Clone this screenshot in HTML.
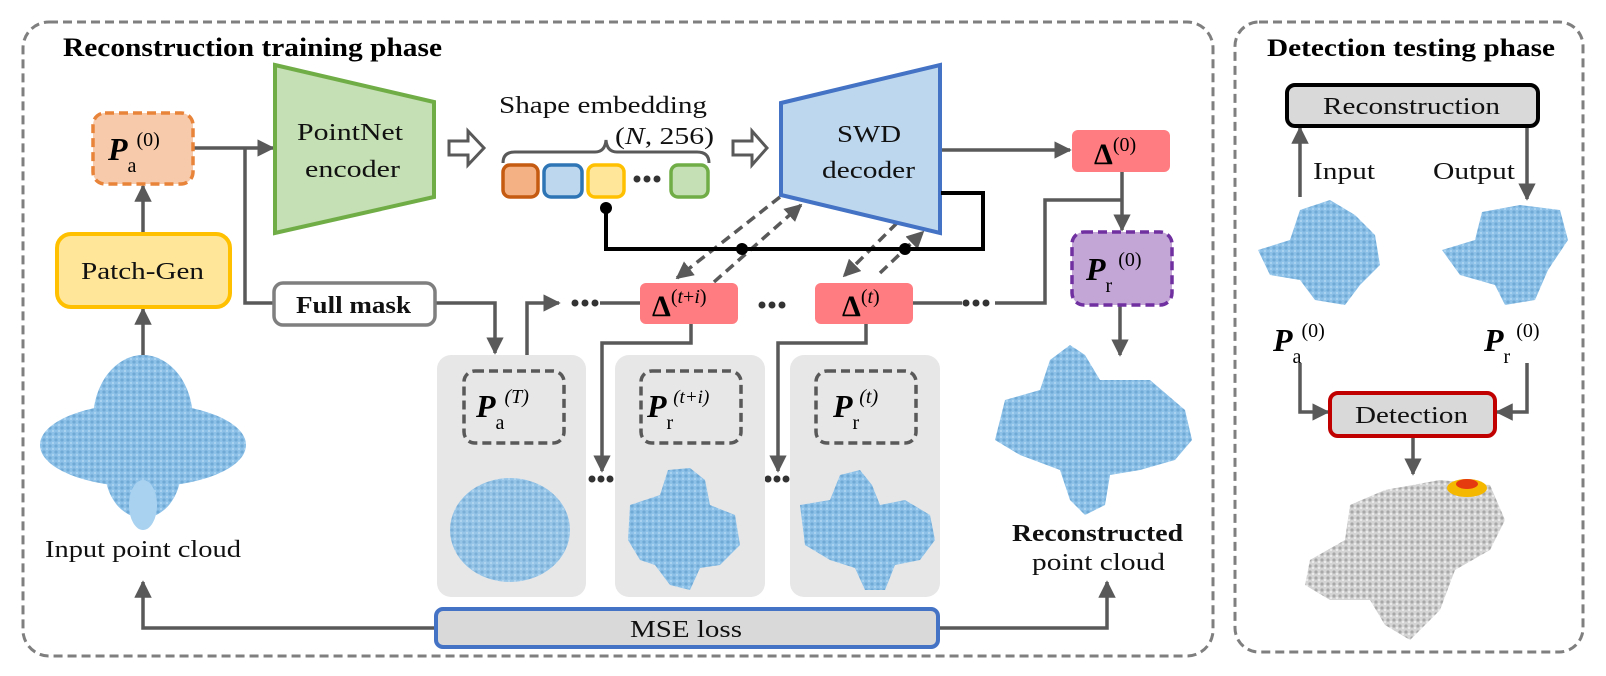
<!DOCTYPE html>
<html><head><meta charset="utf-8">
<style>
html,body{margin:0;padding:0;background:#fff;}
svg{display:block;font-family:"Liberation Serif","DejaVu Serif",serif;}
.t{font-size:24px;fill:#111;}
.b{font-weight:bold;}
</style></head>
<body>
<svg width="1606" height="676" viewBox="0 0 1606 676">
<defs>
 <marker id="ah" viewBox="0 0 10 10" refX="9" refY="5" markerWidth="5" markerHeight="5" orient="auto-start-reverse" markerUnits="strokeWidth">
  <path d="M0,0 L10,5 L0,10 z" fill="#595959"/>
 </marker>
 <pattern id="dotsB" width="6" height="6" patternUnits="userSpaceOnUse">
  <rect width="6" height="6" fill="#8dc1e8"/>
  <circle cx="2" cy="2" r="1.6" fill="#6fa9d6"/>
  <circle cx="5" cy="5" r="1.2" fill="#a9d2f0"/>
 </pattern>
 <pattern id="dotsG" width="6" height="6" patternUnits="userSpaceOnUse">
  <rect width="6" height="6" fill="#d4d4d4"/>
  <circle cx="2" cy="2" r="1.6" fill="#a8a8a8"/>
  <circle cx="5" cy="4" r="1.1" fill="#ececec"/>
 </pattern>
</defs>

<!-- frames -->
<rect x="23" y="22" width="1190" height="634" rx="26" fill="none" stroke="#7f7f7f" stroke-width="3" stroke-dasharray="9,5"/>
<rect x="1235" y="22" width="348" height="630" rx="24" fill="none" stroke="#7f7f7f" stroke-width="3" stroke-dasharray="9,5"/>
<text x="63" y="56" class="b" font-size="26" fill="#000" textLength="379" lengthAdjust="spacingAndGlyphs">Reconstruction training phase</text>
<text x="1267" y="56" class="b" font-size="25" fill="#000" textLength="288" lengthAdjust="spacingAndGlyphs">Detection testing phase</text>

<g stroke="#595959" stroke-width="3.5" fill="none">
 <line x1="193" y1="148" x2="273" y2="148" marker-end="url(#ah)"/>
 <polyline points="245,148 245,303 274,303"/>
 <line x1="143" y1="234" x2="143" y2="186" marker-end="url(#ah)"/>
 <line x1="143" y1="356" x2="143" y2="309" marker-end="url(#ah)"/>
 <polyline points="435,303 495,303 495,353" marker-end="url(#ah)"/>
 <polyline points="527,355 527,303 559,303" marker-end="url(#ah)"/>
 <line x1="600" y1="303" x2="640" y2="303"/>
 <polyline points="691,324 691,343 602,343 602,471" marker-end="url(#ah)"/>
 <polyline points="866,324 866,343 778,343 778,471" marker-end="url(#ah)"/>
 <line x1="913" y1="303" x2="962" y2="303"/>
 <polyline points="995,303 1045,303 1045,200 1122,200"/>
 <line x1="940" y1="150" x2="1070" y2="150" marker-end="url(#ah)"/>
 <line x1="1122" y1="172" x2="1122" y2="230" marker-end="url(#ah)"/>
 <line x1="1120" y1="305" x2="1120" y2="355" marker-end="url(#ah)"/>
 <polyline points="436,628 143,628 143,582" marker-end="url(#ah)"/>
 <polyline points="938,628 1107,628 1107,582" marker-end="url(#ah)"/>
 <line x1="1300" y1="197" x2="1300" y2="128" marker-end="url(#ah)"/>
 <line x1="1527" y1="126" x2="1527" y2="199" marker-end="url(#ah)"/>
 <polyline points="1300,363 1300,412 1328,412" marker-end="url(#ah)"/>
 <polyline points="1527,363 1527,412 1497,412" marker-end="url(#ah)"/>
 <line x1="1413" y1="436" x2="1413" y2="474" marker-end="url(#ah)"/>
</g>

<g stroke="#595959" stroke-width="3.5" fill="none" stroke-dasharray="10,6">
 <line x1="780" y1="197" x2="677" y2="278" marker-end="url(#ah)"/>
 <line x1="714" y1="282" x2="801" y2="205" marker-end="url(#ah)"/>
 <line x1="897" y1="223" x2="844" y2="276" marker-end="url(#ah)"/>
 <line x1="880" y1="273" x2="923" y2="232" marker-end="url(#ah)"/>
</g>

<g fill="#333">
 <circle cx="575" cy="303" r="3.5"/><circle cx="585" cy="303" r="3.5"/><circle cx="595" cy="303" r="3.5"/>
 <circle cx="762" cy="305" r="3.5"/><circle cx="772" cy="305" r="3.5"/><circle cx="782" cy="305" r="3.5"/>
 <circle cx="966" cy="303" r="3.5"/><circle cx="976" cy="303" r="3.5"/><circle cx="986" cy="303" r="3.5"/>
 <circle cx="592" cy="479" r="3.5"/><circle cx="601" cy="479" r="3.5"/><circle cx="610" cy="479" r="3.5"/>
 <circle cx="768" cy="479" r="3.5"/><circle cx="777" cy="479" r="3.5"/><circle cx="786" cy="479" r="3.5"/>
 <circle cx="637" cy="179" r="3.5"/><circle cx="647" cy="179" r="3.5"/><circle cx="657" cy="179" r="3.5"/>
</g>

<rect x="93" y="113" width="100" height="71" rx="12" fill="#f7caab" stroke="#e8833a" stroke-width="3.5" stroke-dasharray="9,5"/>
<text x="108" y="160" font-size="32" class="b" font-style="italic">P<tspan font-size="20" font-weight="normal" font-style="normal" dy="12">a</tspan><tspan font-size="20" font-weight="normal" font-style="normal" dy="-26">(0)</tspan></text>

<rect x="57" y="234" width="173" height="73" rx="14" fill="#ffe699" stroke="#ffc000" stroke-width="4"/>
<text x="81" y="279" class="t" textLength="123" lengthAdjust="spacingAndGlyphs">Patch-Gen</text>

<polygon points="275,65 434,102 434,197 275,233" fill="#c5e0b4" stroke="#70ad47" stroke-width="4"/>
<text x="297" y="140" class="t" textLength="106" lengthAdjust="spacingAndGlyphs">PointNet</text>
<text x="305" y="177" class="t" textLength="95" lengthAdjust="spacingAndGlyphs">encoder</text>

<path d="M449,141 L468,141 L468,131 L484,148 L468,165 L468,155 L449,155 z" fill="#fff" stroke="#595959" stroke-width="3"/>
<path d="M733,141 L752,141 L752,131 L767,148 L752,165 L752,155 L733,155 z" fill="#fff" stroke="#595959" stroke-width="3"/>

<text x="499" y="113" class="t" textLength="208" lengthAdjust="spacingAndGlyphs">Shape embedding</text>
<text x="615" y="144" class="t" textLength="99" lengthAdjust="spacingAndGlyphs">(<tspan font-style="italic">N</tspan>, 256)</text>
<path d="M503,163 Q503,152 515,152 L595,152 Q605,152 606,140 Q607,152 617,152 L697,152 Q709,152 709,163" fill="none" stroke="#595959" stroke-width="3"/>
<rect x="503" y="165" width="35" height="32" rx="7" fill="#f4b183" stroke="#c55a11" stroke-width="3.5"/>
<rect x="544" y="165" width="38" height="32" rx="7" fill="#bdd7ee" stroke="#2e75b6" stroke-width="3.5"/>
<rect x="588" y="165" width="36" height="32" rx="7" fill="#ffe699" stroke="#ffc000" stroke-width="3.5"/>
<rect x="671" y="165" width="37" height="32" rx="7" fill="#c5e0b4" stroke="#70ad47" stroke-width="3.5"/>

<polygon points="781,103 940,65 940,233 781,195" fill="#bdd7ee" stroke="#4472c4" stroke-width="4"/>
<text x="837" y="142" class="t" textLength="64" lengthAdjust="spacingAndGlyphs">SWD</text>
<text x="822" y="178" class="t" textLength="93" lengthAdjust="spacingAndGlyphs">decoder</text>

<polyline points="606,208 606,249 983,249 983,193 941,193" fill="none" stroke="#000" stroke-width="4"/>
<circle cx="606" cy="208" r="6" fill="#000"/>
<circle cx="742" cy="249" r="6" fill="#000"/>
<circle cx="905" cy="249" r="6" fill="#000"/>

<rect x="640" y="283" width="98" height="41" rx="6" fill="#ff7c80"/>
<text x="652" y="316" font-size="30" class="b">Δ<tspan font-size="20" font-weight="normal" dy="-13">(<tspan font-style="italic">t</tspan>+<tspan font-style="italic">i</tspan>)</tspan></text>
<rect x="815" y="283" width="98" height="41" rx="6" fill="#ff7c80"/>
<text x="842" y="316" font-size="30" class="b">Δ<tspan font-size="20" font-weight="normal" dy="-13">(<tspan font-style="italic">t</tspan>)</tspan></text>
<rect x="1072" y="130" width="98" height="42" rx="6" fill="#ff7c80"/>
<text x="1094" y="164" font-size="30" class="b">Δ<tspan font-size="20" font-weight="normal" dy="-13">(0)</tspan></text>

<rect x="1072" y="232" width="100" height="73" rx="12" fill="#c3a5d6" stroke="#7030a0" stroke-width="3.5" stroke-dasharray="9,5"/>
<text x="1086" y="280" font-size="32" class="b" font-style="italic">P<tspan font-size="20" font-weight="normal" font-style="normal" dy="12">r</tspan><tspan font-size="20" font-weight="normal" font-style="normal" dy="-26" dx="6">(0)</tspan></text>

<rect x="274" y="283" width="161" height="42" rx="9" fill="#fff" stroke="#7f7f7f" stroke-width="3.5"/>
<text x="296" y="313" class="t b" textLength="115" lengthAdjust="spacingAndGlyphs">Full mask</text>

<rect x="437" y="355" width="149" height="242" rx="14" fill="#e7e7e7"/>
<rect x="615" y="355" width="150" height="242" rx="14" fill="#e7e7e7"/>
<rect x="790" y="355" width="150" height="242" rx="14" fill="#e7e7e7"/>
<g fill="none" stroke="#595959" stroke-width="3.5" stroke-dasharray="9,5">
 <rect x="464" y="371" width="100" height="72" rx="11"/>
 <rect x="641" y="371" width="100" height="72" rx="11"/>
 <rect x="816" y="371" width="100" height="72" rx="11"/>
</g>
<text x="476" y="417" font-size="32" class="b" font-style="italic">P<tspan font-size="20" font-weight="normal" font-style="normal" dy="12">a</tspan><tspan font-size="20" font-weight="normal" dy="-26">(<tspan font-style="italic">T</tspan>)</tspan></text>
<text x="647" y="417" font-size="32" class="b" font-style="italic">P<tspan font-size="20" font-weight="normal" font-style="normal" dy="12">r</tspan><tspan font-size="19" font-weight="normal" dy="-26">(<tspan font-style="italic">t</tspan>+<tspan font-style="italic">i</tspan>)</tspan></text>
<text x="833" y="417" font-size="32" class="b" font-style="italic">P<tspan font-size="20" font-weight="normal" font-style="normal" dy="12">r</tspan><tspan font-size="20" font-weight="normal" dy="-26">(<tspan font-style="italic">t</tspan>)</tspan></text>

<ellipse cx="510" cy="530" rx="60" ry="52" fill="url(#dotsB)" opacity="0.9"/>
<path d="M630,505 L660,495 L668,470 L690,468 L705,480 L710,505 L735,515 L740,545 L720,565 L700,568 L690,590 L670,585 L655,565 L640,560 L628,540 z" fill="url(#dotsB)"/>
<path d="M800,505 L830,500 L840,475 L860,470 L872,485 L880,505 L905,500 L930,515 L935,540 L920,560 L895,565 L885,590 L865,590 L855,568 L830,560 L805,545 z" fill="url(#dotsB)"/>

<rect x="436" y="609" width="502" height="38" rx="7" fill="#d9d9d9" stroke="#4472c4" stroke-width="4"/>
<text x="630" y="637" class="t" textLength="112" lengthAdjust="spacingAndGlyphs">MSE loss</text>

<g fill="url(#dotsB)">
 <ellipse cx="143" cy="445" rx="103" ry="42"/>
 <ellipse cx="143" cy="420" rx="50" ry="65"/>
 <ellipse cx="143" cy="470" rx="38" ry="48"/>
 <ellipse cx="143" cy="505" rx="14" ry="25" fill="#a9d2f0"/>
</g>
<text x="45" y="557" class="t" textLength="196" lengthAdjust="spacingAndGlyphs">Input point cloud</text>

<path d="M1005,400 L1040,390 L1050,360 L1070,345 L1085,355 L1100,380 L1150,380 L1185,410 L1192,440 L1175,460 L1140,470 L1110,475 L1105,505 L1085,515 L1070,500 L1060,470 L1020,455 L995,440 z" fill="url(#dotsB)"/>
<text x="1012" y="541" class="t b" textLength="171" lengthAdjust="spacingAndGlyphs">Reconstructed</text>
<text x="1032" y="570" class="t" textLength="133" lengthAdjust="spacingAndGlyphs">point cloud</text>

<rect x="1287" y="85" width="251" height="41" rx="8" fill="#d9d9d9" stroke="#000" stroke-width="4"/>
<text x="1323" y="114" class="t" textLength="177" lengthAdjust="spacingAndGlyphs">Reconstruction</text>
<text x="1313" y="179" class="t" textLength="62" lengthAdjust="spacingAndGlyphs">Input</text>
<text x="1433" y="179" class="t" textLength="82" lengthAdjust="spacingAndGlyphs">Output</text>
<path d="M1258,250 L1290,240 L1300,210 L1330,200 L1355,215 L1375,235 L1380,265 L1360,285 L1345,305 L1315,300 L1300,280 L1270,275 z" fill="url(#dotsB)"/>
<path d="M1442,250 L1475,240 L1482,212 L1520,205 L1560,210 L1568,240 L1548,270 L1535,300 L1505,305 L1495,285 L1460,275 z" fill="url(#dotsB)"/>
<text x="1273" y="351" font-size="32" class="b" font-style="italic">P<tspan font-size="20" font-weight="normal" font-style="normal" dy="12">a</tspan><tspan font-size="20" font-weight="normal" font-style="normal" dy="-26">(0)</tspan></text>
<text x="1484" y="351" font-size="32" class="b" font-style="italic">P<tspan font-size="20" font-weight="normal" font-style="normal" dy="12">r</tspan><tspan font-size="20" font-weight="normal" font-style="normal" dy="-26" dx="6">(0)</tspan></text>
<rect x="1330" y="393" width="165" height="43" rx="8" fill="#d9d9d9" stroke="#c00000" stroke-width="4"/>
<text x="1355" y="423" class="t" textLength="113" lengthAdjust="spacingAndGlyphs">Detection</text>
<path d="M1310,560 L1345,540 L1350,505 L1385,490 L1440,480 L1490,485 L1505,520 L1490,550 L1455,570 L1440,610 L1410,640 L1385,625 L1370,600 L1330,600 L1305,585 z" fill="url(#dotsG)"/>
<ellipse cx="1467" cy="488" rx="20" ry="9" fill="#f5b800"/>
<ellipse cx="1467" cy="484" rx="11" ry="5" fill="#e53a10"/>
</svg>
</body></html>
